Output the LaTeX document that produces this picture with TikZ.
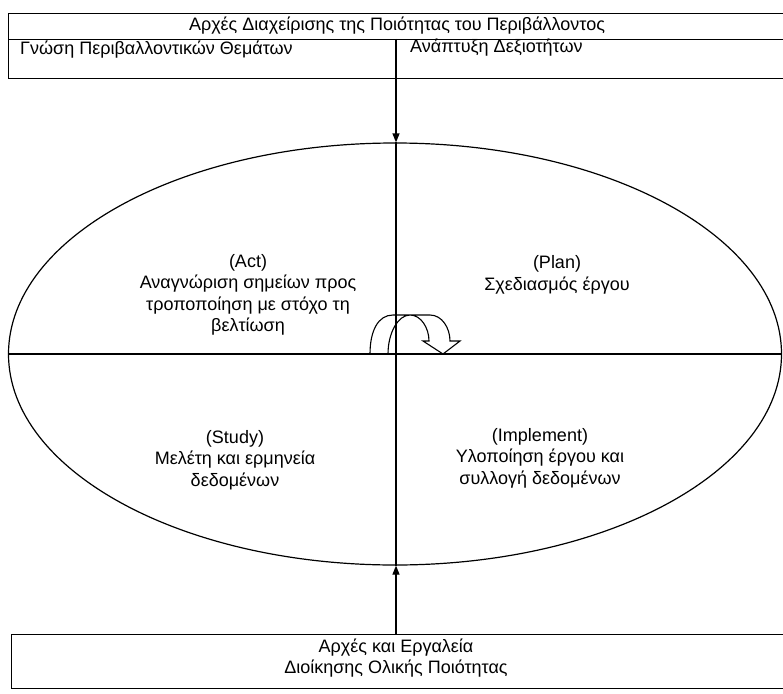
\documentclass[tikz,border=0pt]{standalone}
\usepackage{fontspec}
\setmainfont{Liberation Sans}
\usetikzlibrary{shapes.geometric,arrows.meta}
\begin{document}
\begin{tikzpicture}[x=1pt,y=-1pt,
  frame/.style={draw, line width=1.2pt},
  cell/.style={frame, rectangle, inner sep=0, anchor=north west},
  lbl/.style={font=\fontsize{18}{21.5}\selectfont, align=center, inner sep=0},
  tip/.style={-{Triangle[length=9pt,width=7pt]}}]
\useasboundingbox (0,0) rectangle (783,693);
\clip (0,0) rectangle (783,693);

% header: principles of environmental quality management
\node[cell, minimum width=777pt, minimum height=26pt] (title) at (8,13) {};
\node[lbl] (titletext) at (397,26) {Αρχές Διαχείρισης της Ποιότητας του Περιβάλλοντος};
\node[cell, minimum width=388pt, minimum height=39pt] (left) at (8,39) {};
\node[cell, minimum width=389pt, minimum height=39pt] (right) at (396,39) {};
\node[lbl, anchor=west] (lefttext) at (20,50) {Γνώση Περιβαλλοντικών Θεμάτων};
\node[lbl, anchor=west] (righttext) at (410,48) {Ανάπτυξη Δεξιοτήτων};

% PDSA cycle
\node[frame, ellipse, minimum width=773pt, minimum height=422pt, inner sep=0] (cycle) at (395,354) {};
\draw[frame] (cycle.west) -- (cycle.east);
\coordinate (ctop) at (cycle.north -| right.north west);
\coordinate (cbot) at (cycle.south -| right.north west);
\draw[frame] (ctop) -- (cbot);

\node[lbl] (act) at (248,295) {(Act)\\Αναγνώριση σημείων προς\\τροποποίηση με στόχο τη\\βελτίωση};
\node[lbl] (plan) at (557,275) {(Plan)\\Σχεδιασμός έργου};
\node[lbl] (study) at (235,460) {(Study)\\Μελέτη και ερμηνεία\\δεδομένων};
\node[lbl] (impl) at (540,458) {(Implement)\\Υλοποίηση έργου και\\συλλογή δεδομένων};

% rotation arrow at the centre
\draw[line width=1.1pt, line join=miter]
  (370,354) .. controls (370,331) and (378,315) .. (393,315)
  -- (430,315) .. controls (442,315) and (450,328) .. (450,341)
  -- (460,341) -- (443,354) -- (423,341) -- (429,341)
  .. controls (429,328) and (421,315) .. (410,315)
  .. controls (398,315) and (388,333) .. (388,354);

% footer: TQM principles and tools
\node[cell, minimum width=774pt, minimum height=54pt] (tqm) at (11,634) {};
\node[lbl] (tqmtext) at (396,658) {Αρχές και Εργαλεία\\Διοίκησης Ολικής Ποιότητας};

\draw[frame, tip] (right.north west) -- (ctop);
\draw[frame, tip] (tqm.north -| ctop) -- (cbot);
\end{tikzpicture}
\end{document}
